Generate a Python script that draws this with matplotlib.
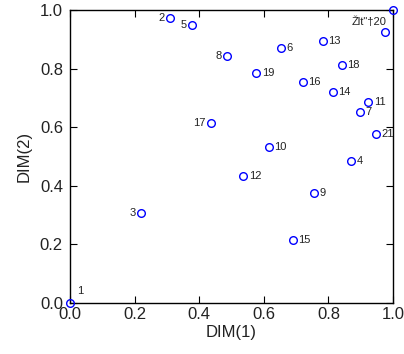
import matplotlib
matplotlib.use("Agg")
import matplotlib.pyplot as plt

plt.rcParams['font.family'] = ['Liberation Sans', 'DejaVu Sans']

# point coordinates
labels = ['1', '2', '3', '4', '5', '6', '7', '8', '9', '10', '11',
          '12', '13', '14', '15', '16', '17', '18', '19', '20', '21', '']
dim1 = [0.0, 0.31, 0.22, 0.87, 0.378, 0.653, 0.898, 0.486, 0.755, 0.616, 0.923,
        0.536, 0.783, 0.814, 0.69, 0.721, 0.437, 0.842, 0.576, 1.0, 0.947, 0.975]
dim2 = [0.0, 0.973, 0.307, 0.485, 0.949, 0.87, 0.652, 0.843, 0.375, 0.532, 0.686,
        0.433, 0.894, 0.72, 0.215, 0.754, 0.614, 0.812, 0.785, 1.0, 0.577, 0.925]
# which side the number sits on
left_side = {'2', '5', '8', '17', '3'}

fig = plt.figure(figsize=(4.04, 3.54), dpi=100)
ax = fig.add_axes([0.173, 0.144, 0.8, 0.828])

ax.plot(dim1, dim2, 'o', mfc='none', mec='blue', ms=5.5, mew=1, clip_on=False, zorder=3)

for lab, x, y in zip(labels, dim1, dim2):
    if lab == '':
        continue
    if lab == '1':
        ax.annotate(lab, (x, y), xytext=(5, 5), textcoords='offset points',
                    fontsize=8, va='bottom', ha='left', color='#222222')
    elif lab == '20':
        ax.annotate('Žlt"†20', (x, y), xytext=(-5, -5), textcoords='offset points',
                    fontsize=8, va='top', ha='right', color='#222222')
    elif lab in left_side:
        ax.annotate(lab, (x, y), xytext=(-4, 0), textcoords='offset points',
                    fontsize=8, va='center', ha='right', color='#222222')
    else:
        ax.annotate(lab, (x, y), xytext=(4, 0), textcoords='offset points',
                    fontsize=8, va='center', ha='left', color='#222222')

ax.set_xlim(0, 1)
ax.set_ylim(0, 1)
ax.set_xticks([0, 0.2, 0.4, 0.6, 0.8, 1.0])
ax.set_yticks([0, 0.2, 0.4, 0.6, 0.8, 1.0])
ax.tick_params(direction='in', top=True, right=True, length=5, labelsize=12,
               labelcolor='#222222')
ax.tick_params(axis='x', pad=3)
ax.tick_params(axis='y', pad=5)
ax.set_xlabel('DIM(1)', fontsize=12, labelpad=2, color='#222222')
ax.set_ylabel('DIM(2)', fontsize=12, labelpad=6, color='#222222')
for s in ax.spines.values():
    s.set_linewidth(1)

fig.savefig('out.png', dpi=100)
